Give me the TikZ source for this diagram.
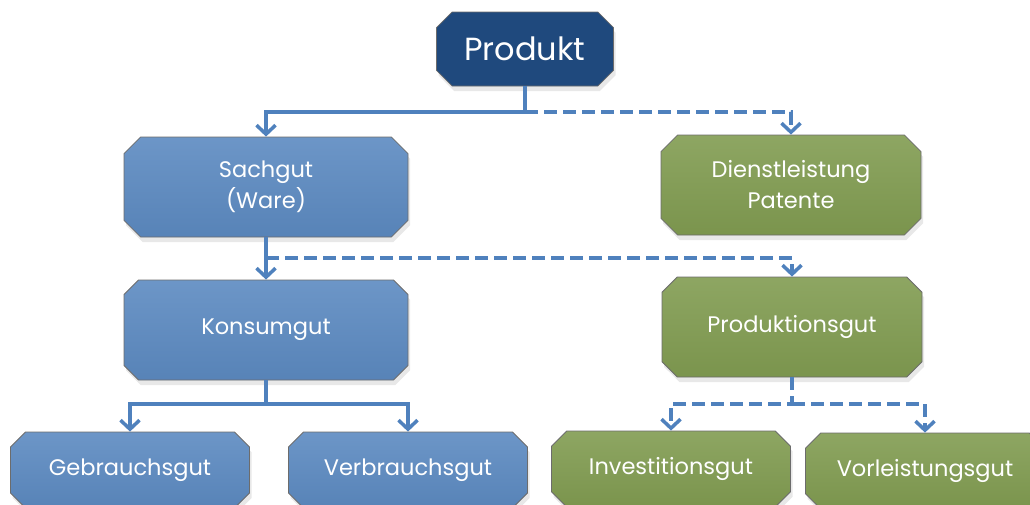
\documentclass[tikz,border=0pt]{standalone}
\usepackage{fontspec}
\setmainfont{Poppins}
\usetikzlibrary{arrows.meta, positioning, shapes.misc, shadows, calc}
\definecolor{linkblue}{RGB}{79,129,189}
\definecolor{darkblue}{RGB}{31,73,125}
\definecolor{boxblue}{RGB}{92,138,193}
\definecolor{boxgreen}{RGB}{129,156,81}
\tikzset{%
  box/.style={
    chamfered rectangle,
    chamfered rectangle xsep=13pt,
    draw=gray!85!black,
    line width=0.8pt,
    text=white,
    align=center,
    inner sep=0pt,
    font=\fontsize{22.5}{31}\selectfont,
    drop shadow={opacity=0.18, shadow xshift=2pt, shadow yshift=-5pt}
  },
  top box/.style={box, fill=darkblue, font=\fontsize{32}{36}\selectfont},
  ware/.style={box, top color=boxblue!90!white, bottom color=boxblue!95!black},
  service/.style={box, top color=boxgreen!90!white, bottom color=boxgreen!95!black},
  big/.style={minimum width=284pt, minimum height=100pt},
  mid/.style={minimum width=260pt, minimum height=100pt},
  small/.style={minimum width=239pt, minimum height=76pt},
  link/.style={
    linkblue, line width=3.8pt,
    -{Straight Barb[length=9pt, width=19pt, line width=3.5pt]}
  },
  dash link/.style={link, dash pattern=on 13pt off 6pt}
}
\begin{document}
\begin{tikzpicture}[x=1pt, y=-1pt]
  \useasboundingbox (0,0) rectangle (1030,504);
  \clip (0,0) rectangle (1030,504);
  % boxes
  \node[top box, minimum width=177pt, minimum height=74pt] (prod) at (525,49) {Produkt};
  \node[ware, big] (sach) at (266,187) {Sachgut\\(Ware)};
  \node[service, mid] (dienst) at (791,185) {Dienstleistung\\Patente};
  \node[ware, big] (konsum) at (266,330) {Konsumgut};
  \node[service, mid] (produktion) at (792,327) {Produktionsgut};
  \node[ware, small] (gebrauch) at (130,470) {Gebrauchsgut};
  \node[ware, small] (verbrauch) at (408,470) {Verbrauchsgut};
  \node[service, small] (invest) at (671,469) {Investitionsgut};
  \node[service, small] (vorl) at (925,471) {Vorleistungsgut};
  % junctions
  \coordinate (j1) at (525,112);
  \coordinate (j2) at (266,258);
  \coordinate (j3) at (266,404);
  \coordinate (j4) at (792,404);
  % connectors
  \draw[link] (prod.south) -- (j1) -| (sach.north);
  \draw[dash link] (j1) -| (dienst.north);
  \draw[link] (sach.south) -- (konsum.north);
  \draw[dash link] (j2) -| (produktion.north);
  \draw[link] (konsum.south) -- (j3) -| (gebrauch.north);
  \draw[link] (j3) -| (verbrauch.north);
  \draw[dash link] (produktion.south) -- (j4) -| (invest.north);
  \draw[dash link] (j4) -| (vorl.north);
\end{tikzpicture}
\end{document}
